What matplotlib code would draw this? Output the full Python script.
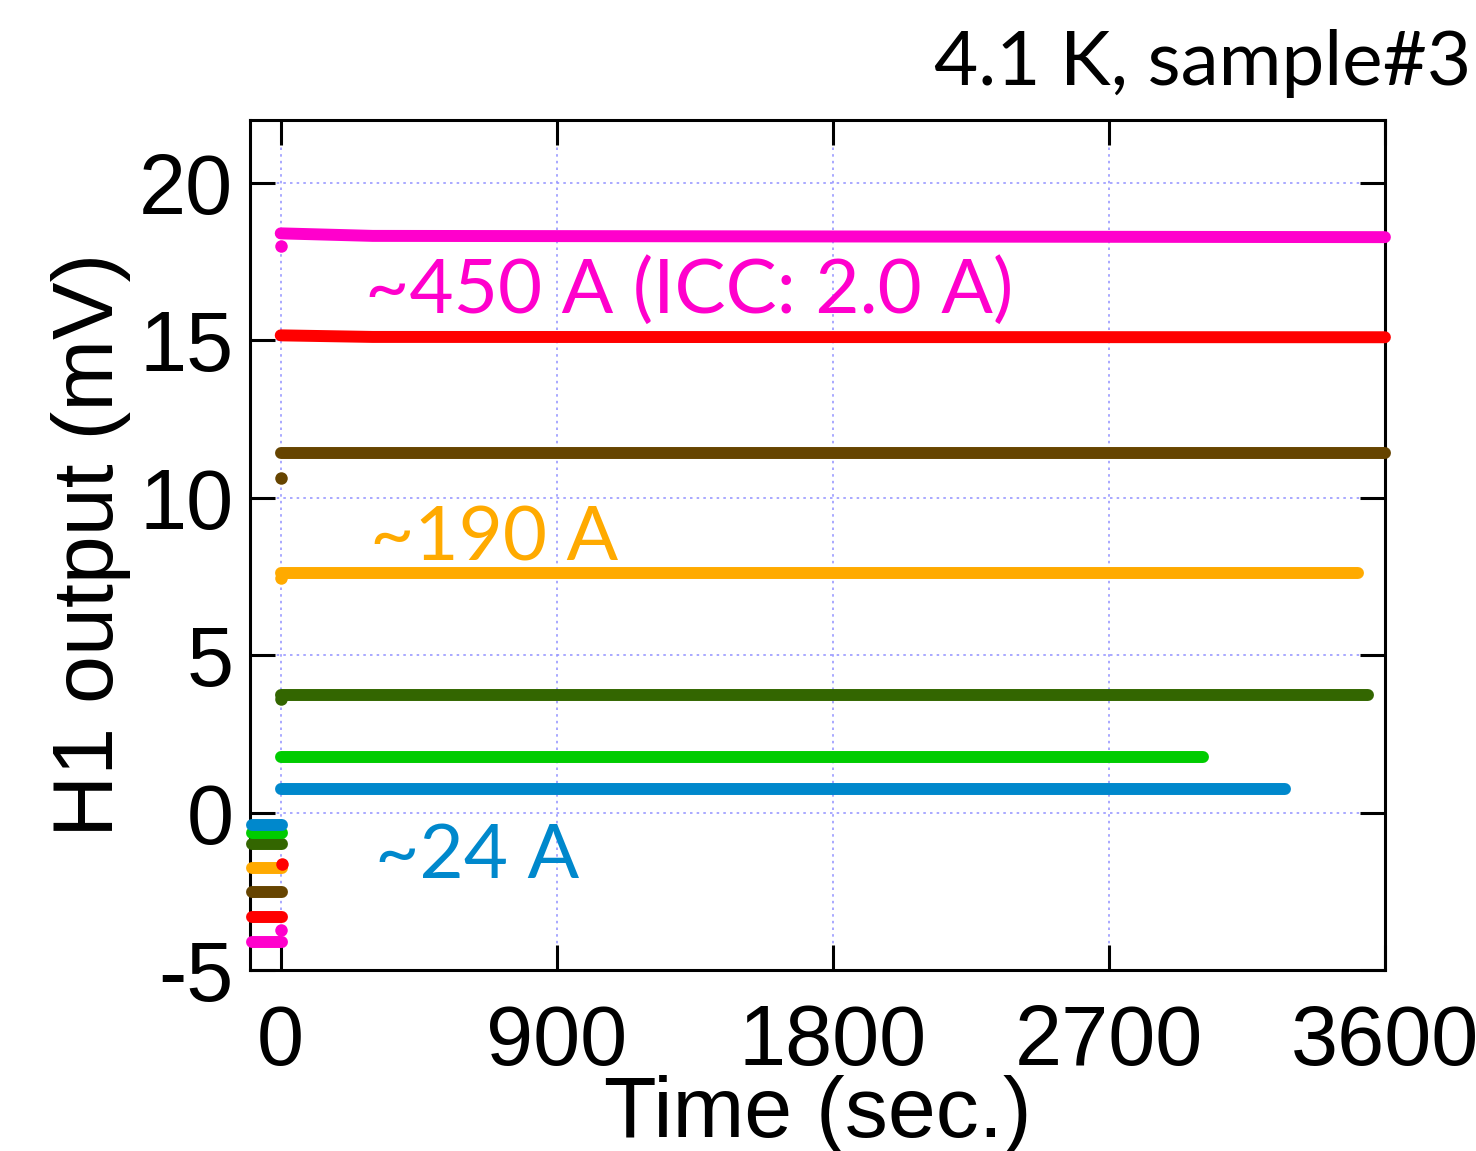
import matplotlib
matplotlib.use('Agg')
import matplotlib.pyplot as plt

plt.rcParams['axes.unicode_minus'] = False

# colours of the runs (top to bottom)
names = ['450A', '380A', '300A', '190A', '100A', '50A', '24A']
colors = ['#ff00cc', '#ff0000', '#664400', '#ffaa00', '#336600', '#00cc00', '#0088cc']

# level right after current is applied, after settling, and at the end (mV)
t_start = [0, 0, 0, 0, 0, 0, 0]
v_start = [18.40, 15.16, 11.42, 7.60, 3.72, 1.78, 0.76]
t_mid = [300, 300, 300, 300, 300, 300, 300]
v_mid = [18.32, 15.11, 11.42, 7.60, 3.72, 1.78, 0.76]
t_end = [3600, 3600, 3600, 3512, 3545, 3006, 3274]
v_end = [18.28, 15.10, 11.42, 7.60, 3.72, 1.78, 0.76]

# offset levels before the current ramp (mV)
t_off0 = -95
t_off1 = 5
v_off = [-4.10, -3.31, -2.51, -1.75, -0.99, -0.64, -0.38]

# stray points during the ramp
stray_t = [0, 0, 3, 0, 0, 0]
stray_v = [18.0, 10.62, -1.62, -3.72, 7.45, 3.62]
stray_c = ['#ff00cc', '#664400', '#ff0000', '#ff00cc', '#ffaa00', '#336600']

fig = plt.figure(figsize=(14.76, 11.51), dpi=100)
ax = fig.add_axes([0.1694, 0.1573, 0.7689, 0.7384])

lw = 8.6
for i in range(len(names)):
    ax.plot([t_start[i], t_mid[i], t_end[i]], [v_start[i], v_mid[i], v_end[i]],
            color=colors[i], lw=lw, solid_capstyle='round', clip_on=False, zorder=3)
    ax.plot([t_off0, t_off1], [v_off[i], v_off[i]], color=colors[i], lw=lw,
            solid_capstyle='round', clip_on=False, zorder=3)

for t, v, c in zip(stray_t, stray_v, stray_c):
    ax.plot(t, v, 'o', color=c, ms=9, mec='none', clip_on=False, zorder=4)

ax.set_xlim(-100, 3600)
ax.set_ylim(-5, 22)
ax.set_xticks([0, 900, 1800, 2700, 3600])
ax.set_yticks([-5, 0, 5, 10, 15, 20])

ax.grid(True, color='#9999ff', ls=(0, (1.5, 2.5)), lw=1.2)
ax.set_axisbelow(True)

for s in ax.spines.values():
    s.set_linewidth(2.2)
ax.tick_params(direction='in', length=18, width=2.2, top=True, right=True,
               labelsize=61)
ax.tick_params(axis='y', pad=12)
ax.tick_params(axis='x', pad=24)
for lab in ax.get_xticklabels() + ax.get_yticklabels():
    lab.set_family('Liberation Sans')

ax.set_xlabel('Time (sec.)', fontsize=62, family='Liberation Sans', labelpad=-6)
ax.set_ylabel('H1 output (mV)', fontsize=62, family='Liberation Sans', labelpad=6)

ax.text(0.101, 0.773, '~450 A (ICC: 2.0 A)', transform=ax.transAxes,
        color='#ff00cc', fontsize=55, family='Lato')
ax.text(0.106, 0.482, '~190 A', transform=ax.transAxes,
        color='#ffaa00', fontsize=55, family='Lato')
ax.text(0.110, 0.108, '~24 A', transform=ax.transAxes,
        color='#0088cc', fontsize=55, family='Lato')

fig.text(0.997, 0.926, '4.1 K, sample#3', ha='right', va='baseline',
         fontsize=55, family='Lato')

fig.savefig('out.png', dpi=100)
